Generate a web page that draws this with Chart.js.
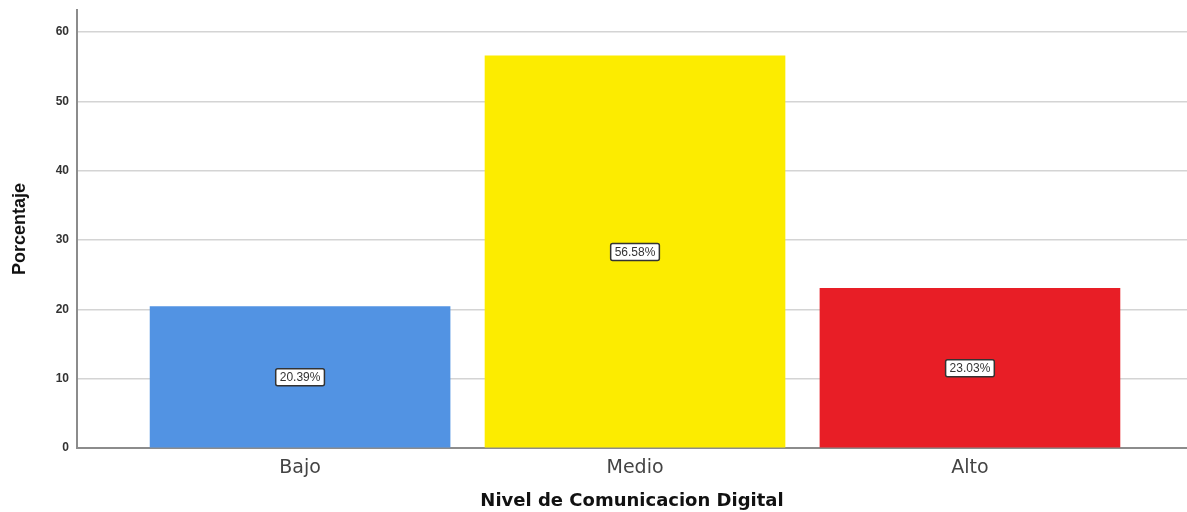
<!DOCTYPE html>
<html>
<head>
<meta charset="utf-8">
<script src="https://cdn.jsdelivr.net/npm/chart.js@4"></script>
<style>
  html, body { margin: 0; padding: 0; background: #fff; }
  #wrap { width: 1187px; height: 512px; position: relative; }
</style>
</head>
<body>
<div id="wrap"><canvas id="chart"></canvas></div>
<script>
const categories = ['Bajo', 'Medio', 'Alto'];
const percentages = [20.39, 56.58, 23.03];
const barColors = ['#5293E3', '#FCEC00', '#E81E26'];
const yTicks = [0, 10, 20, 30, 40, 50, 60];

// value boxes in the middle of each bar
const boxLabels = {
  id: 'boxLabels',
  afterDatasetsDraw(chart) {
    const ctx = chart.ctx;
    const meta = chart.getDatasetMeta(0);
    ctx.save();
    ctx.font = '12px "Liberation Sans", Arial, sans-serif';
    ctx.textAlign = 'center';
    ctx.textBaseline = 'middle';
    meta.data.forEach((bar, i) => {
      const text = percentages[i].toFixed(2) + '%';
      const y = chart.scales.y.getPixelForValue(percentages[i] / 2);
      const w = ctx.measureText(text).width + 8;
      const h = 17;
      ctx.beginPath();
      ctx.roundRect(bar.x - w / 2, y - h / 2, w, h, 2);
      ctx.fillStyle = '#ffffff';
      ctx.fill();
      ctx.lineWidth = 1.5;
      ctx.strokeStyle = '#333333';
      ctx.stroke();
      ctx.fillStyle = '#333333';
      ctx.fillText(text, bar.x, y + 0.5);
    });
    ctx.restore();
  },
};

new Chart(document.getElementById('chart'), {
  type: 'bar',
  data: {
    datasets: [
      {
        data: categories.map((c, i) => ({ x: i, y: percentages[i] })),
        backgroundColor: barColors,
        borderWidth: 0,
        barThickness: 300,
      },
    ],
  },
  options: {
    responsive: true,
    maintainAspectRatio: false,
    animation: false,
    layout: { padding: { top: 10, right: 0, left: 0, bottom: 0 } },
    plugins: { legend: { display: false }, tooltip: { enabled: false } },
    scales: {
      x: {
        type: 'linear',
        offset: false,
        min: -0.666,
        max: 2.648,
        afterBuildTicks: (scale) => {
          scale.ticks = categories.map((c, i) => ({ value: i }));
        },
        afterFit: (scale) => { scale.height = 64; },
        grid: { display: false },
        border: { display: true, color: '#8c8c8c', width: 2 },
        ticks: {
          padding: 1,
          color: '#444',
          font: { family: '"DejaVu Sans", Verdana, sans-serif', size: 19 },
          callback: (value) => categories[value],
        },
        title: {
          display: true,
          text: 'Nivel de Comunicacion Digital',
          color: '#111',
          padding: { top: 7, bottom: 0 },
          font: { family: '"DejaVu Sans", Verdana, sans-serif', size: 18, weight: 'bold' },
        },
      },
      y: {
        min: 0,
        max: 63.2,
        afterBuildTicks: (scale) => {
          scale.ticks = yTicks.map((v) => ({ value: v }));
        },
        afterFit: (scale) => {
          scale.width = 77;
          scale.paddingTop = 0;
          scale.paddingBottom = 0;
        },
        grid: { color: '#d4d4d4', lineWidth: 1.5, drawTicks: false },
        border: { display: true, color: '#8c8c8c', width: 2 },
        ticks: {
          padding: 8,
          color: '#333',
          font: { family: '"Liberation Sans", Arial, sans-serif', size: 12, weight: 'bold' },
        },
        title: {
          display: true,
          text: 'Porcentaje',
          color: '#111',
          padding: { top: 9, bottom: 4 },
          font: { family: '"Liberation Sans", Arial, sans-serif', size: 18, weight: 'bold' },
        },
      },
    },
  },
  plugins: [boxLabels],
});
</script>
</body>
</html>
